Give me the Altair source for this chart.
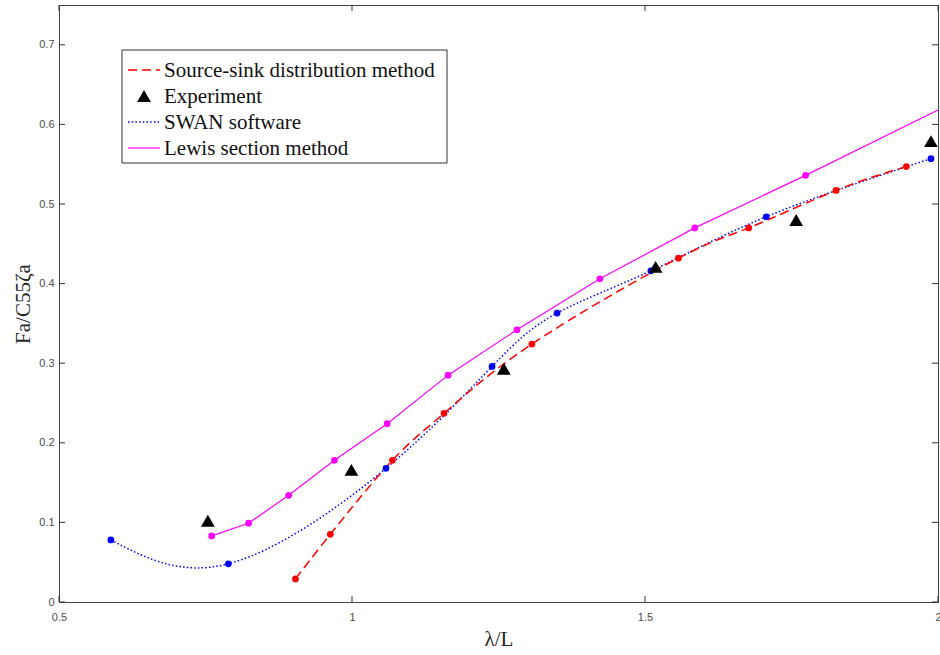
import altair as alt
import pandas as pd

# ---- data ----
series_names = ["Source-sink distribution method", "Experiment", "SWAN software", "Lewis section method"]

src_x = [0.9035, 0.963, 1.069, 1.157, 1.307, 1.557, 1.677, 1.826, 1.946]
src_y = [0.029, 0.085, 0.178, 0.237, 0.324, 0.432, 0.470, 0.517, 0.547]

exp_x = [0.754, 0.999, 1.259, 1.518, 1.758, 1.988]
exp_y = [0.102, 0.166, 0.293, 0.421, 0.480, 0.579]

swan_x = [0.5885, 0.789, 1.058, 1.239, 1.350, 1.510, 1.707, 1.988]
swan_y = [0.078, 0.048, 0.168, 0.296, 0.363, 0.416, 0.484, 0.557]

lewis_x = [0.7605, 0.8235, 0.892, 0.970, 1.060, 1.164, 1.2815, 1.423, 1.585, 1.774, 2.0]
lewis_y = [0.083, 0.099, 0.134, 0.178, 0.224, 0.285, 0.342, 0.406, 0.470, 0.536, 0.618]
lewis_marker = [True] * 10 + [False]

x_ticks = [0.5, 1.0, 1.5, 2.0]
y_ticks = [0, 0.1, 0.2, 0.3, 0.4, 0.5, 0.6, 0.7]

W, H = 879, 597

src_df = pd.DataFrame({"x": src_x, "y": src_y})
exp_df = pd.DataFrame({"x": exp_x, "y": exp_y})
swan_df = pd.DataFrame({"x": swan_x, "y": swan_y})
lewis_df = pd.DataFrame({"x": lewis_x, "y": lewis_y, "m": lewis_marker})
xt_df = pd.DataFrame({"x": x_ticks})
yt_df = pd.DataFrame({"y": y_ticks})

xs = alt.Scale(domain=[0.5, 2.0], nice=False, zero=False)
ys = alt.Scale(domain=[0, 0.75], nice=False)

xaxis = alt.Axis(values=x_ticks, format="~g", title="λ/L", ticks=False, domain=False, grid=False,
                 labelFont="Liberation Sans", labelFontSize=11, labelColor="#4d4d4d", labelPadding=9,
                 titleFont="Liberation Serif", titleFontSize=21, titleFontWeight="normal",
                 titleColor="#262626", titlePadding=6, labelFlush=False)
yaxis = alt.Axis(values=y_ticks, format="~g", title="Fa/C55ζa", ticks=False, domain=False, grid=False,
                 labelFont="Liberation Sans", labelFontSize=11, labelColor="#4d4d4d", labelPadding=5,
                 titleFont="Liberation Serif", titleFontSize=21, titleFontWeight="normal",
                 titleColor="#262626", titlePadding=5, labelFlush=False)

X = alt.X("x:Q", scale=xs, axis=xaxis)
Y = alt.Y("y:Q", scale=ys, axis=yaxis)

RED, BLUE, MAG = "#ff0000", "#0000ff", "#ff00ff"

src_line = alt.Chart(src_df).mark_line(color=RED, strokeWidth=1.5, strokeDash=[9, 5], interpolate="natural").encode(x=X, y=Y)
src_pts = alt.Chart(src_df).mark_circle(color=RED, size=45, opacity=1).encode(x=X, y=Y)

swan_line = alt.Chart(swan_df).mark_line(color=BLUE, strokeWidth=1.5, strokeDash=[1.5, 2.2], interpolate="natural").encode(x=X, y=Y)
swan_pts = alt.Chart(swan_df).mark_circle(color=BLUE, size=45, opacity=1).encode(x=X, y=Y)

lewis_line = alt.Chart(lewis_df).mark_line(color=MAG, strokeWidth=1.2).encode(x=X, y=Y)
lewis_pts = alt.Chart(lewis_df).transform_filter("datum.m").mark_circle(color=MAG, size=45, opacity=1).encode(x=X, y=Y)

exp_pts = alt.Chart(exp_df).mark_point(shape="triangle-up", filled=True, color="black", size=190, opacity=1).encode(x=X, y=Y)

TICK = "#333333"
tick_b = alt.Chart(xt_df).mark_rule(color=TICK, strokeWidth=1).encode(x=X, y=alt.value(H), y2=alt.value(H - 6))
tick_t = alt.Chart(xt_df).mark_rule(color=TICK, strokeWidth=1).encode(x=X, y=alt.value(0), y2=alt.value(6))
tick_l = alt.Chart(yt_df).mark_rule(color=TICK, strokeWidth=1).encode(y=Y, x=alt.value(0), x2=alt.value(6))
tick_r = alt.Chart(yt_df).mark_rule(color=TICK, strokeWidth=1).encode(y=Y, x=alt.value(W), x2=alt.value(W - 6))

# ---- legend box (drawn in pixel layout space) ----
LX0, LX1, LY0, LY1 = 63, 388, 45, 158
row_y = [65, 91, 117, 143]
one = pd.DataFrame({"a": [0]})
legend_layers = [
    alt.Chart(one).mark_rect(fill="white", stroke="#333333", strokeWidth=1).encode(
        x=alt.value(LX0), x2=alt.value(LX1), y=alt.value(LY0), y2=alt.value(LY1))
]
styles = [
    dict(kind="line", color=RED, dash=[9, 5], width=1.5),
    dict(kind="tri"),
    dict(kind="line", color=BLUE, dash=[1.5, 2.2], width=1.5),
    dict(kind="line", color=MAG, dash=None, width=1.2),
]
for i, (name, st) in enumerate(zip(series_names, styles)):
    ydf = pd.DataFrame({"name": [name]})
    if st["kind"] == "line":
        kw = dict(color=st["color"], strokeWidth=st["width"])
        if st["dash"]:
            kw["strokeDash"] = st["dash"]
        legend_layers.append(alt.Chart(ydf).mark_rule(**kw).encode(
            x=alt.value(69), x2=alt.value(101), y=alt.value(row_y[i])))
    else:
        legend_layers.append(alt.Chart(ydf).mark_point(shape="triangle-up", filled=True, color="black",
                                                       size=190, opacity=1).encode(
            x=alt.value(85), y=alt.value(row_y[i])))
    legend_layers.append(alt.Chart(ydf).mark_text(align="left", baseline="middle", font="Liberation Serif",
                                                  fontSize=21, color="#111111").encode(
        x=alt.value(105), y=alt.value(row_y[i] + 1), text="name:N"))

chart = alt.layer(
    tick_b, tick_t, tick_l, tick_r,
    swan_line, src_line, lewis_line,
    src_pts, swan_pts, lewis_pts, exp_pts,
    *legend_layers,
).properties(
    width=W, height=H,
    autosize=alt.AutoSizeParams(type="none"),
    padding={"left": 59, "top": 5, "right": 2, "bottom": 53},
    background="white",
).configure_view(stroke="#444444", strokeWidth=1)

chart.save("out.html", embed_options={"renderer": "svg", "actions": False})
